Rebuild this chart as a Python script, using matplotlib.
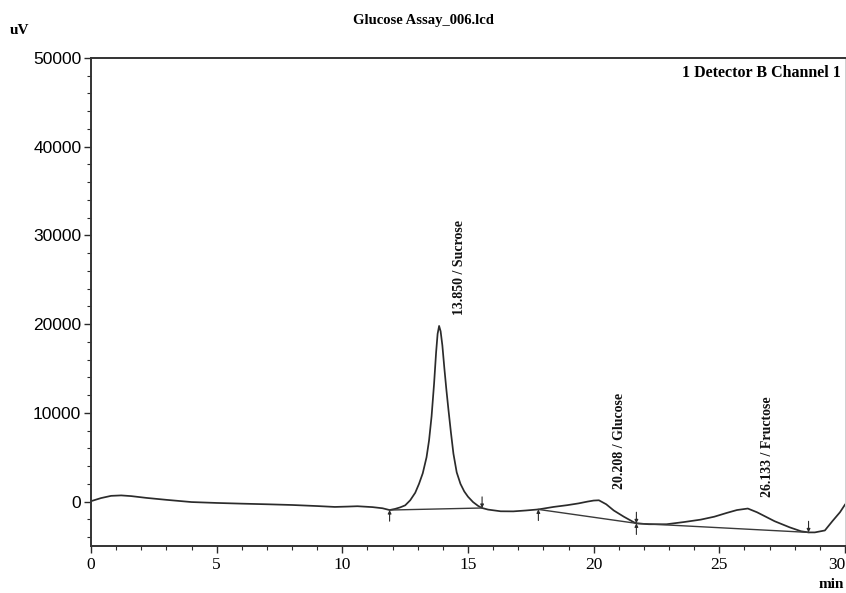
import matplotlib
matplotlib.use("Agg")
import matplotlib.pyplot as plt
from matplotlib.ticker import MultipleLocator

# Chromatogram trace: retention time (min) and detector signal (uV)
time_min = [0.0, 0.4, 0.8, 1.2, 1.6, 2.2, 3.0, 4.0, 5.0, 6.0, 7.0, 8.0, 9.0, 9.7,
            10.2, 10.6, 11.2, 11.6, 11.88, 12.1, 12.3, 12.5, 12.7, 12.9, 13.05,
            13.2, 13.35, 13.45, 13.55, 13.65, 13.73, 13.79, 13.85, 13.91, 13.98,
            14.06, 14.14, 14.22, 14.32, 14.42, 14.55, 14.7, 14.85, 15.0, 15.2,
            15.4, 15.56, 15.8, 16.3, 16.8, 17.3, 17.8, 18.4, 18.95, 19.4, 19.75,
            20.0, 20.208, 20.5, 20.8, 21.2, 21.6, 21.7, 22.2, 22.9, 23.6, 24.26,
            24.8, 25.3, 25.7, 26.133, 26.5, 27.2, 27.8, 28.25, 28.55, 28.8, 29.2,
            29.5, 29.8, 30.0]
signal_uv = [50, 400, 650, 700, 620, 420, 200, -50, -150, -230, -300, -380, -500, -600,
             -560, -520, -620, -750, -950, -820, -650, -420, 150, 1000, 2000,
             3200, 5000, 6900, 9600, 13300, 16800, 18900, 19800, 19200, 17600,
             15000, 12600, 10400, 7800, 5400, 3300, 2000, 1150, 550, -50,
             -480, -720, -900, -1090, -1100, -1000, -880, -600, -400, -200, 0,
             120, 150, -300, -1000, -1700, -2330, -2450, -2550, -2550, -2300, -2030,
             -1700, -1270, -950, -780, -1200, -2210, -2900, -3340, -3470, -3470, -3250,
             -2200, -1200, -340]

# Integration baselines (start time, start uV, end time, end uV)
base_t0 = [11.88, 17.8, 21.7]
base_v0 = [-950, -880, -2450]
base_t1 = [15.56, 21.7, 28.55]
base_v1 = [-720, -2450, -3470]

# Peak annotations
peak_rt = [13.850, 20.208, 26.133]
peak_names = ["Sucrose", "Glucose", "Fructose"]

# Integration event markers: time, signal, direction (+1 above/down, -1 below/up)
mark_t = [11.88, 15.56, 17.8, 21.7, 21.7, 28.55]
mark_v = [-950, -720, -880, -2450, -2450, -3470]
mark_dir = [-1, 1, -1, 1, -1, 1]

serif = "Liberation Serif"
sans = "Liberation Sans"
ink = "#2b2b2b"

fig = plt.figure(figsize=(8.46, 5.93), dpi=100)
ax = fig.add_axes([0.1076, 0.0793, 0.8912, 0.8229])

ax.plot(time_min, signal_uv, color=ink, lw=1.25, solid_joinstyle="round")
for t0, v0, t1, v1 in zip(base_t0, base_v0, base_t1, base_v1):
    ax.plot([t0, t1], [v0, v1], color="#3a3a3a", lw=1.0)

for t, v, d in zip(mark_t, mark_v, mark_dir):
    ax.annotate("", xy=(t, v), xytext=(0, 8 * d), textcoords="offset points",
                arrowprops=dict(arrowstyle="-|>", lw=0.8, color=ink,
                                mutation_scale=5, shrinkA=0, shrinkB=0))

for rt, name in zip(peak_rt, peak_names):
    idx = time_min.index(rt)
    ax.annotate(f"{rt:.3f} / {name}", xy=(rt, signal_uv[idx]),
                xytext=(14.5, 8), textcoords="offset points", rotation=90,
                ha="center", va="bottom", fontsize=10, fontweight="bold",
                family=serif, color="#111111")

ax.set_xlim(0, 30)
ax.set_ylim(-5000, 50000)
ax.xaxis.set_major_locator(MultipleLocator(5))
ax.xaxis.set_minor_locator(MultipleLocator(1))
ax.yaxis.set_major_locator(MultipleLocator(10000))
ax.yaxis.set_minor_locator(MultipleLocator(2000))
ax.tick_params(which="major", direction="out", length=5, width=1.0, color=ink)
ax.tick_params(which="minor", direction="out", length=3, width=0.8, color=ink)
ax.tick_params(axis="x", pad=3)
ax.tick_params(axis="y", pad=2)

fig.canvas.draw()
xlabels = ax.get_xticklabels()
for lab in xlabels:
    lab.set_family(serif)
    lab.set_fontsize(12.5)
# last label sits against the right edge of the figure
for lab in xlabels:
    if lab.get_text() == "30":
        lab.set_horizontalalignment("right")
for lab in ax.get_yticklabels():
    lab.set_family(sans)
    lab.set_fontsize(12.5)

for side in ["left", "bottom", "top"]:
    ax.spines[side].set_color("#333333")
    ax.spines[side].set_linewidth(1.4)
ax.spines["right"].set_color("#c8c8c8")
ax.spines["right"].set_linewidth(0.6)

fig.text(0.5, 0.965, "Glucose Assay_006.lcd", ha="center", va="center",
         fontsize=10.5, fontweight="bold", family=serif)
fig.text(0.012, 0.948, "uV", ha="left", va="center", fontsize=11,
         fontweight="bold", family=serif)
ax.text(0.995, 0.985, "1 Detector B Channel 1", transform=ax.transAxes,
        ha="right", va="top", fontsize=11.5, fontweight="bold", family=serif)
fig.text(0.983, 0.004, "min", ha="center", va="bottom", fontsize=11,
         fontweight="bold", family=serif)

fig.savefig("out.png", dpi=100, facecolor="white")
